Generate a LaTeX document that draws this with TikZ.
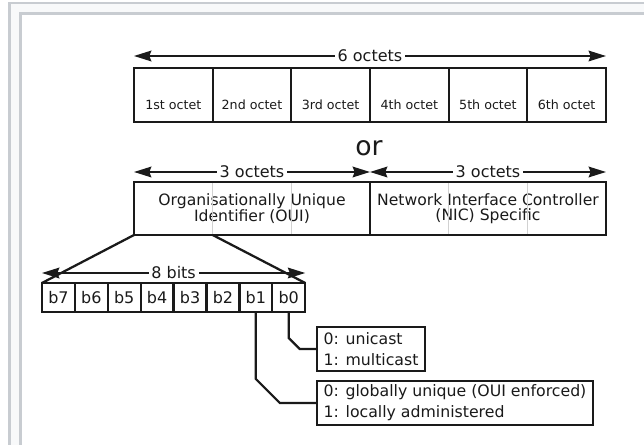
\documentclass[tikz,border=0pt]{standalone}
\usepackage{fontspec}
\setmainfont{DejaVu Sans}
\usepackage{tikz}
\usetikzlibrary{positioning,arrows.meta,calc}
\definecolor{framefill}{HTML}{F8F9FA}
\definecolor{frameline}{HTML}{C8CCD1}
\definecolor{ink}{HTML}{1A1A1A}

\begin{document}
\begin{tikzpicture}[x=0.75pt,y=-0.75pt,
  every node/.style={outer sep=0pt, text=ink},
  octet/.style={draw=ink, line width=1.7pt, minimum width=59pt, minimum height=40.5pt,
    inner sep=0pt, text height=31.5pt, text depth=9pt, font=\fontsize{9.5}{11}\selectfont},
  span/.style={arrows={Stealth[length=13pt,width=8pt,inset=1.5pt]-Stealth[length=13pt,width=8pt,inset=1.5pt]},
    line width=1.4pt, draw=ink},
  spanlabel/.style={fill=white, inner sep=2pt, font=\fontsize{12}{13}\selectfont},
  field/.style={draw=ink, line width=1.7pt, minimum width=177pt, minimum height=39.75pt,
    inner sep=0pt, align=center, font=\fontsize{11.7}{11.5}\selectfont},
  bitcell/.style={draw=ink, line width=1.7pt, minimum width=24.7pt, minimum height=21.75pt,
    inner sep=0pt, font=\fontsize{12}{13}\selectfont},
  flagbox/.style={draw=ink, line width=1.8pt, align=left, inner xsep=5pt, inner ysep=0pt,
    minimum height=33pt, anchor=west, font=\fontsize{11.8}{15.75}\selectfont},
  link/.style={draw=ink, line width=1.7pt},
  divider/.style={draw=black!18, line width=1pt, shorten <=0.85pt, shorten >=0.85pt}
]
\useasboundingbox (0,0) rectangle (644,445);

% Frame
\fill[framefill] (8,2) rectangle (644,445);
\fill[white] (20,13) rectangle (644,445);
\draw[frameline, line width=2.2pt] (9.5,445) -- (9.5,3) -- (644,3);
\draw[frameline, line width=2.2pt] (20.5,445) -- (20.5,13.5) -- (644,13.5);

% Six octets
\node[octet] (o1) at (173.3,95) {1st octet};
\foreach \i/\p/\lab in {2/1/2nd,3/2/3rd,4/3/4th,5/4/5th,6/5/6th}
  \node[octet, right=0pt of o\p] (o\i) {\lab\ octet};
\coordinate (top l) at ([yshift=9pt]o1.north west);
\coordinate (top r) at ([yshift=9pt]o6.north east);
\draw[span] (top l) -- node[spanlabel] (l6) {6 octets} (top r);

\node[font=\fontsize{20}{22}\selectfont] (or) at (369,148) {or};

% OUI and NIC
\node[field] (oui) at (252,208.5) {Organisationally Unique\\Identifier (OUI)};
\node[field, right=0pt of oui] (nic) {Network Interface Controller\\(NIC) Specific};
\foreach \f in {oui,nic}
  \foreach \k in {1,2}
    \draw[divider] ($(\f.north west)!\k/3!(\f.north east)$) -- ($(\f.south west)!\k/3!(\f.south east)$);
\coordinate (oui l) at ([yshift=7.5pt]oui.north west);
\coordinate (oui r) at ([yshift=7.5pt]oui.north east);
\coordinate (nic r) at ([yshift=7.5pt]nic.north east);
\draw[span] (oui l) -- node[spanlabel] (l3a) {3 octets} (oui r);
\draw[span] (oui r) -- node[spanlabel] (l3b) {3 octets} (nic r);

% Bits of the first octet
\foreach \i in {0,...,7}
  \node[bitcell] (b\i) at ({58.45+(7-\i)*32.9},297.5) {b\i};
\coordinate (oui1) at ($(oui.south west)!1/3!(oui.south east)$);
\draw[link] (oui.south west) -- (b7.north west);
\draw[link] (oui1) -- (b0.north east);
\coordinate (bits l) at ([yshift=7.5pt]b7.north west);
\coordinate (bits r) at ([yshift=7.5pt]b0.north east);
\draw[span] (bits l) -- node[spanlabel] (l8) {8 bits} (bits r);

% Flags
\node[flagbox] (uni) at (317,349) {0: unicast\\1: multicast};
\node[flagbox] (glob) at (317,403) {0: globally unique (OUI enforced)\\1: locally administered};
\draw[link] (b0.south) -- ++(0,26) -- ++(11,11) -- (uni.west);
\draw[link] (b1.south) -- ++(0,67) -- ++(24,24) -- (glob.west);
\end{tikzpicture}
\end{document}
